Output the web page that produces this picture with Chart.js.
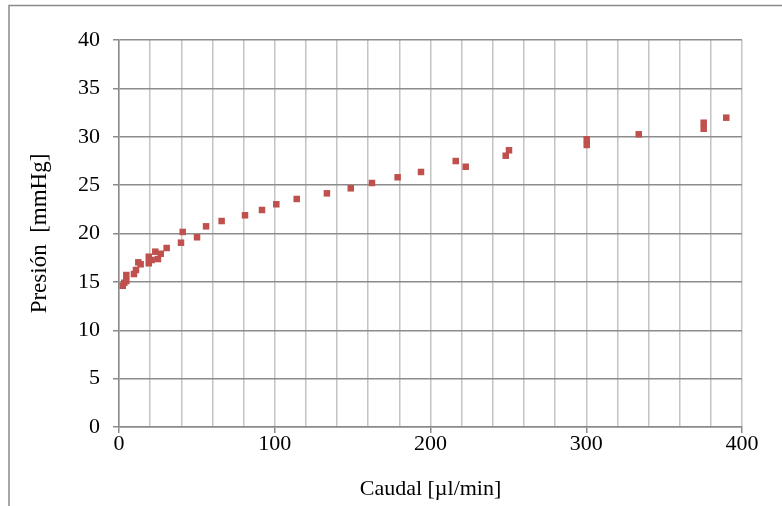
<!DOCTYPE html>
<html>
<head>
<meta charset="utf-8">
<script src="https://cdn.jsdelivr.net/npm/chart.js@4"></script>
<style>
  html, body { margin: 0; padding: 0; background: #fff; }
  #wrap { width: 782px; height: 506px; }
</style>
</head>
<body>
<div id="wrap"><canvas id="chart" width="782" height="506"></canvas></div>
<script>
// flow rate (µl/min) and pressure (mmHg) measurements
const caudal = [2.4, 3.4, 4.7, 4.7, 9.6, 10.9, 12.4, 13.9, 19.1, 19.1, 21.0, 23.3, 25.0, 26.8, 30.6,
  39.8, 40.9, 50.1, 55.9, 65.9, 80.9, 91.8, 101.0, 114.1, 133.5, 148.8, 162.4, 178.9, 193.9,
  216.2, 222.6, 248.3, 250.4, 300.3, 300.3, 333.7, 375.4, 375.4, 389.9];
const presion = [14.60, 14.91, 15.09, 15.71, 15.81, 16.23, 17.02, 16.82, 16.92, 17.60, 17.26, 18.12, 17.36, 17.91, 18.50,
  19.05, 20.16, 19.61, 20.74, 21.29, 21.88, 22.43, 23.02, 23.57, 24.15, 24.67, 25.22, 25.81, 26.36,
  27.49, 26.90, 28.04, 28.60, 29.74, 29.15, 30.25, 31.45, 30.83, 31.97];

const xLabels = [0, 100, 200, 300, 400];
const yLabels = [0, 5, 10, 15, 20, 25, 30, 35, 40];

const points = caudal.map((c, i) => ({ x: c, y: presion[i] }));

// outer frame around the chart
const frame = {
  id: 'frame',
  beforeDraw(chart) {
    const ctx = chart.ctx;
    ctx.save();
    ctx.strokeStyle = '#8a8a8a';
    ctx.lineWidth = 1.5;
    ctx.strokeRect(9, 5.5, 800, 600);
    ctx.restore();
  }
};

const serif = "'Liberation Serif', 'Times New Roman', serif";

new Chart(document.getElementById('chart'), {
  type: 'scatter',
  data: {
    datasets: [{
      data: points,
      pointStyle: 'rect',
      pointRadius: 4.6,
      pointHoverRadius: 4.6,
      backgroundColor: '#c0504d',
      borderColor: '#c0504d',
      borderWidth: 0
    }]
  },
  options: {
    responsive: false,
    animation: false,
    layout: { padding: { left: 10, top: 40, right: 40, bottom: 0 } },
    plugins: { legend: { display: false }, tooltip: { enabled: false } },
    scales: {
      x: {
        type: 'linear',
        min: 0,
        max: 400,
        afterFit(scale) { scale.height = 79; },
        ticks: {
          stepSize: 20,
          autoSkip: false,
          maxRotation: 0,
          padding: -2,
          color: '#000',
          font: { family: serif, size: 22 },
          callback: v => xLabels.includes(v) ? v : ''
        },
        grid: {
          color: '#c4c4c4',
          lineWidth: 1.5,
          tickLength: 6,
          tickColor: ctx => (ctx.tick && xLabels.includes(ctx.tick.value)) ? '#8a8a8a' : 'rgba(0,0,0,0)'
        },
        border: { color: '#8a8a8a', width: 1.5 },
        title: {
          display: true,
          text: 'Caudal [µl/min]',
          color: '#000',
          font: { family: serif, size: 22 },
          padding: { top: 10 }
        }
      },
      y: {
        type: 'linear',
        min: 0,
        max: 40,
        afterFit(scale) { scale.width = 109; },
        ticks: {
          stepSize: 5,
          padding: 13,
          color: '#000',
          font: { family: serif, size: 22 },
          callback: v => yLabels.includes(v) ? v : ''
        },
        grid: {
          color: '#8c8c8c',
          lineWidth: 1.5,
          tickLength: 6,
          tickColor: '#8a8a8a'
        },
        border: { color: '#8a8a8a', width: 1.5 },
        title: {
          display: true,
          text: 'Presión  [mmHg]',
          color: '#000',
          font: { family: serif, size: 23 },
          padding: { top: 16, bottom: 0 }
        }
      }
    }
  },
  plugins: [frame]
});
</script>
</body>
</html>
